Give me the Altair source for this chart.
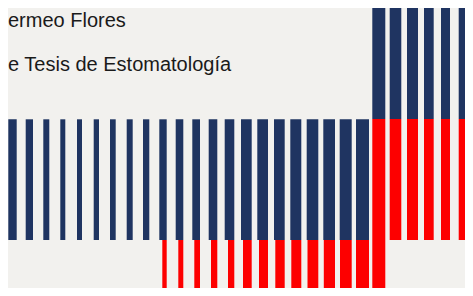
import altair as alt
import pandas as pd

# Bar edges (page pixel units)
bar_left = [8.3, 25.7, 43.3, 60.3, 77.0, 93.7, 110.0, 126.7, 143.0, 159.3, 175.7, 192.3, 208.7, 224.7,
            241.0, 257.3, 274.0, 290.3, 306.7, 323.3, 339.7, 356.0, 372.3, 389.7, 407.0, 424.0, 441.0, 458.7]
bar_right = [16.7, 33.0, 49.3, 65.3, 82.0, 99.0, 115.7, 132.7, 149.3, 166.7, 183.3, 200.0, 217.3, 234.3,
             251.7, 268.0, 284.7, 301.3, 318.3, 335.0, 351.7, 369.0, 385.3, 401.3, 418.0, 433.7, 450.0, 465.7]
navy_top = [119.3] * 22 + [8.0] * 6
navy_bottom = [240.0] * 22 + [119.0] * 6
# red segments: bars 9..27
red_index = list(range(9, 28))
red_left = [162.3, 178.3, 194.3, 211.0, 228.0, 243.0, 259.0, 275.3, 291.3, 307.5, 323.8, 340.0, 356.0,
            372.3, 389.7, 407.0, 424.0, 441.0, 458.7]
red_top = [240.0] * 13 + [119.0] * 6
red_bottom = [300.0] * 14 + [240.0] * 5

labels = ["ermeo Flores", "e Tesis de Estomatología"]
label_x = [8.0, 8.0]
label_y = [26.5, 71.0]

rows = []
for i in range(len(bar_left)):
    rows.append({"x0": bar_left[i], "x1": bar_right[i], "y0": navy_top[i], "y1": navy_bottom[i], "part": "navy"})
for k, i in enumerate(red_index):
    rows.append({"x0": red_left[k], "x1": bar_right[i], "y0": red_top[k], "y1": red_bottom[k], "part": "red"})
bars = pd.DataFrame(rows)
texts = pd.DataFrame({"label": labels, "x": label_x, "y": label_y})

W, H = 457, 280
xs = alt.Scale(domain=[8, 8 + W], nice=False, zero=False)
ys = alt.Scale(domain=[8, 8 + H], nice=False, zero=False, reverse=True)

rects = alt.Chart(bars).mark_rect(clip=True).encode(
    x=alt.X("x0:Q", scale=xs, axis=None),
    x2="x1:Q",
    y=alt.Y("y0:Q", scale=ys, axis=None),
    y2="y1:Q",
    color=alt.Color("part:N", scale=alt.Scale(domain=["navy", "red"], range=["#1f3461", "#fd0000"]), legend=None),
)

txt = alt.Chart(texts).mark_text(align="left", baseline="alphabetic", font="Liberation Sans",
                                  fontSize=20, color="#1a1a1a").encode(
    x=alt.X("x:Q", scale=xs, axis=None),
    y=alt.Y("y:Q", scale=ys, axis=None),
    text="label:N",
)

chart = alt.layer(rects, txt).properties(
    width=W, height=H, padding=0, autosize=alt.AutoSizeParams(type="none"),
    background="#f2f1ee",
).configure_view(stroke=None)

chart.save("out.html", embed_options={"renderer": "svg", "actions": False})
